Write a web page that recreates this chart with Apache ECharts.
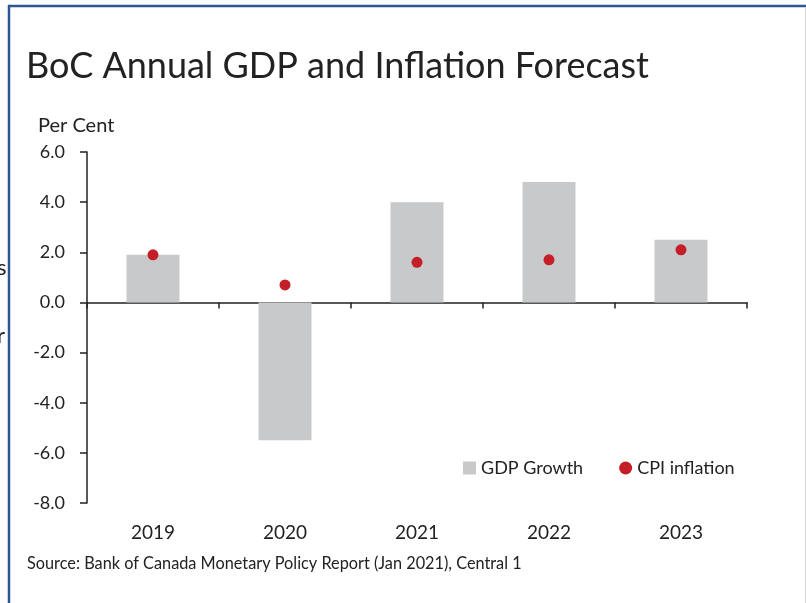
<!DOCTYPE html>
<html><head><meta charset="utf-8">
<script src="https://cdn.jsdelivr.net/npm/echarts@6/dist/echarts.min.js"></script>
<style>html,body{margin:0;padding:0;background:#fff}#c{width:806px;height:603px}</style>
</head><body><div id="c"></div>
<script>
const categories = ['2019','2020','2021','2022','2023'];
const gdpGrowth = [1.9, -5.5, 4.0, 4.8, 2.5];
const cpiInflation = [1.9, 0.7, 1.6, 1.7, 2.1];
const yTicks = {min: -8, max: 6, interval: 2};
const FONT = 'Lato';
const chart = echarts.init(document.getElementById('c'));
chart.setOption({
  animation: false,
  backgroundColor: '#fff',
  textStyle: {fontFamily: FONT},
  title: {text: 'BoC Annual GDP and Inflation Forecast', left: 21, top: 43,
    textStyle: {fontFamily: FONT, fontSize: 36, fontWeight: 'normal', color: '#222'}},
  graphic: [
    {type: 'line', shape: {x1: 8, y1: 6, x2: 806, y2: 6}, style: {stroke: '#2f5597', lineWidth: 2.5}},
    {type: 'line', shape: {x1: 9, y1: 5, x2: 9, y2: 603}, style: {stroke: '#2f5597', lineWidth: 2.5}},
    {type: 'line', shape: {x1: 805.5, y1: 7, x2: 805.5, y2: 603}, style: {stroke: '#d8d8d8', lineWidth: 1}},
    {type: 'text', left: -3, top: 257, style: {text: 's', font: '22px ' + FONT, fill: '#222'}},
    {type: 'text', left: -3, top: 325, style: {text: 'r', font: '22px ' + FONT, fill: '#222'}},
    {type: 'text', left: 38, top: 116, style: {text: 'Per Cent', font: '20px ' + FONT, fill: '#222'}},
    {type: 'text', left: 27, top: 556, style: {text: 'Source: Bank of Canada Monetary Policy Report (Jan 2021), Central 1', font: '16.3px ' + FONT, fill: '#222'}}
  ],
  legend: {left: 458, top: 454, itemWidth: 13, itemHeight: 13, itemGap: 36,
    textStyle: {fontFamily: FONT, fontSize: 18, color: '#222'},
    data: [{name: 'GDP Growth', icon: 'rect'}, {name: 'CPI inflation', icon: 'circle'}]},
  grid: {left: 87, right: 59, top: 152, bottom: 100, containLabel: false},
  xAxis: {type: 'category', data: categories,
    axisLine: {onZero: true, lineStyle: {color: '#222', width: 1.5}},
    axisTick: {show: true, inside: false, length: 6, lineStyle: {color: '#222', width: 1.5}},
    axisLabel: {fontSize: 19, color: '#222', fontFamily: FONT, margin: 20},
    splitLine: {show: false}},
  yAxis: {type: 'value', min: yTicks.min, max: yTicks.max, interval: yTicks.interval,
    axisLine: {show: true, lineStyle: {color: '#222', width: 1.5}},
    axisTick: {show: true, length: 7, lineStyle: {color: '#222', width: 1.5}},
    axisLabel: {fontSize: 18, color: '#222', fontFamily: FONT, margin: 22, formatter: v => v.toFixed(1)},
    splitLine: {show: false}},
  series: [
    {name: 'GDP Growth', type: 'bar', data: gdpGrowth, barWidth: 53, itemStyle: {color: '#c8c9ca'}},
    {name: 'CPI inflation', type: 'scatter', data: cpiInflation, symbolSize: 11, itemStyle: {color: '#c41e28', opacity: 1}, z: 5}
  ]
});
</script></body></html>
